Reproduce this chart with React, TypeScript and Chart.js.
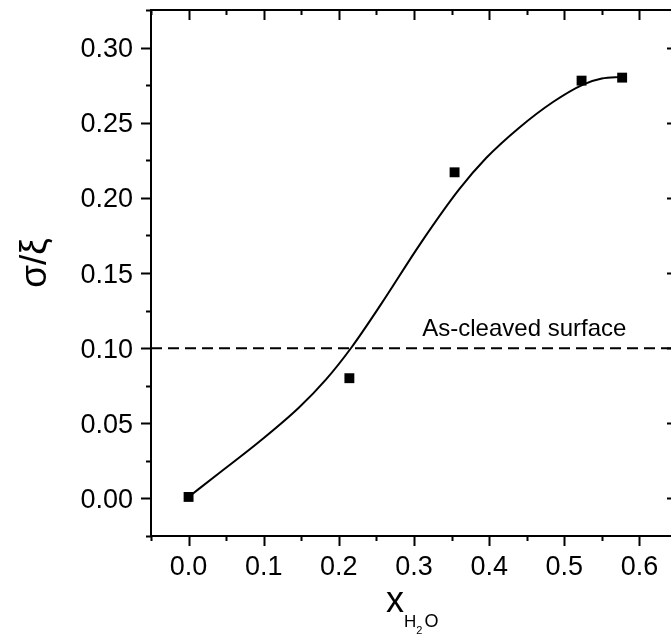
import React, { useEffect, useRef } from "react";
import { Chart, registerables } from "chart.js";

Chart.register(...registerables);

// Measured points
const pointX = [0.0, 0.214, 0.354, 0.523, 0.577];
const pointY = [0.001, 0.08, 0.217, 0.278, 0.28];

// Fitted curve
const curveX = [0.0, 0.04, 0.094, 0.147, 0.183, 0.217, 0.256, 0.309, 0.36, 0.396, 0.44, 0.485, 0.525, 0.55, 0.577];
const curveY = [0.001, 0.0166, 0.0377, 0.0605, 0.0792, 0.1006, 0.1291, 0.1699, 0.2056, 0.2265, 0.2467, 0.2638, 0.2754, 0.2794, 0.2805];

// Reference level
const refLevel = 0.1;
const refLabel = "As-cleaved surface";
const refLabelX = 0.311;

// Axes
const xRange = [-0.05, 0.65];
const yRange = [-0.025, 0.325];
const xMajorTicks = [0, 0.1, 0.2, 0.3, 0.4, 0.5, 0.6];
const xTickLabels = ["0.0", "0.1", "0.2", "0.3", "0.4", "0.5", "0.6"];
const xMinorTicks = [-0.05, 0.05, 0.15, 0.25, 0.35, 0.45, 0.55, 0.65];
const yMajorTicks = [0, 0.05, 0.1, 0.15, 0.2, 0.25, 0.3];
const yTickLabels = ["0.00", "0.05", "0.10", "0.15", "0.20", "0.25", "0.30"];
const yMinorTicks = [-0.025, 0.025, 0.075, 0.125, 0.175, 0.225, 0.275, 0.325];

const FONT = '"Liberation Sans", Arial, sans-serif';

const framePlugin = {
  id: "frame",
  afterDraw(chart: any) {
    const { ctx, chartArea: a } = chart;
    const xs = chart.scales.x;
    const ys = chart.scales.y;
    ctx.save();
    ctx.strokeStyle = "#000";
    ctx.fillStyle = "#000";
    ctx.lineWidth = 2;
    ctx.lineCap = "butt";
    ctx.beginPath();
    ctx.rect(a.left, a.top, a.right - a.left, a.bottom - a.top);
    ctx.stroke();

    const major = 10;
    const minor = 5;
    ctx.beginPath();
    const xt = (vals: number[], len: number) => {
      vals.forEach((v) => {
        const px = Math.round(xs.getPixelForValue(v)) + 0.5;
        ctx.moveTo(px, a.bottom);
        ctx.lineTo(px, a.bottom + len);
        ctx.moveTo(px, a.top);
        ctx.lineTo(px, a.top + len);
      });
    };
    const yt = (vals: number[], len: number) => {
      vals.forEach((v) => {
        const py = Math.round(ys.getPixelForValue(v)) + 0.5;
        ctx.moveTo(a.left, py);
        ctx.lineTo(a.left - len, py);
        ctx.moveTo(a.right, py);
        ctx.lineTo(a.right - len, py);
      });
    };
    xt(xMajorTicks, major);
    xt(xMinorTicks, minor);
    yt(yMajorTicks, major);
    yt(yMinorTicks, minor);
    ctx.stroke();

    // tick labels
    ctx.font = `27px ${FONT}`;
    ctx.textAlign = "center";
    ctx.textBaseline = "alphabetic";
    xMajorTicks.forEach((v, i) => {
      ctx.fillText(xTickLabels[i], xs.getPixelForValue(v), a.bottom + 39);
    });
    ctx.textAlign = "right";
    yMajorTicks.forEach((v, i) => {
      ctx.fillText(yTickLabels[i], a.left - 18, ys.getPixelForValue(v) + 9.5);
    });

    // reference label
    ctx.font = `24px ${FONT}`;
    ctx.textAlign = "left";
    ctx.fillText(refLabel, xs.getPixelForValue(refLabelX), ys.getPixelForValue(refLevel) - 12);

    // x title: x with subscript H2O
    let tx = a.left + 235;
    const ty = a.bottom + 76;
    ctx.font = `36px ${FONT}`;
    ctx.fillText("x", tx, ty);
    tx += ctx.measureText("x").width;
    ctx.font = `17px ${FONT}`;
    ctx.fillText("H", tx, ty + 15);
    tx += ctx.measureText("H").width;
    ctx.font = `11px ${FONT}`;
    ctx.fillText("2", tx, ty + 22);
    tx += ctx.measureText("2").width + 2;
    ctx.font = `18px ${FONT}`;
    ctx.fillText("O", tx, ty + 15);

    // y title
    ctx.translate(46, (a.top + a.bottom) / 2 - 10);
    ctx.rotate(-Math.PI / 2);
    ctx.font = `37px ${FONT}`;
    ctx.textAlign = "center";
    ctx.fillText("σ/ξ", 0, 0);
    ctx.restore();
  },
};

export default function App() {
  const ref = useRef<HTMLCanvasElement | null>(null);
  useEffect(() => {
    if (!ref.current) return;
    const chart = new Chart(ref.current, {
      type: "line",
      data: {
        datasets: [
          {
            data: [
              { x: xRange[0], y: refLevel },
              { x: xRange[1], y: refLevel },
            ],
            borderColor: "#000",
            borderWidth: 2,
            borderDash: [11, 6],
            pointRadius: 0,
            order: 3,
          },
          {
            data: curveX.map((x, i) => ({ x, y: curveY[i] })),
            borderColor: "#000",
            borderWidth: 2,
            pointRadius: 0,
            cubicInterpolationMode: "monotone",
            order: 2,
          },
          {
            data: pointX.map((x, i) => ({ x, y: pointY[i] })),
            showLine: false,
            pointStyle: "rect",
            pointRadius: 7,
            pointBackgroundColor: "#000",
            pointBorderColor: "#000",
            pointBorderWidth: 0,
            order: 1,
          },
        ],
      },
      options: {
        animation: false,
        responsive: false,
        devicePixelRatio: 1,
        layout: { padding: { left: 151, top: 10, right: 23, bottom: 103 } },
        plugins: { legend: { display: false }, tooltip: { enabled: false } },
        events: [],
        scales: {
          x: { type: "linear", min: xRange[0], max: xRange[1], display: false },
          y: { type: "linear", min: yRange[0], max: yRange[1], display: false },
        },
      },
      plugins: [framePlugin],
    } as any);
    return () => chart.destroy();
  }, []);
  return (
    <div style={{ position: "fixed", left: 0, top: 0, width: 671, height: 639, overflow: "hidden", background: "#fff" }}>
      <canvas ref={ref} width={700} height={639} style={{ display: "block" }} />
    </div>
  );
}
